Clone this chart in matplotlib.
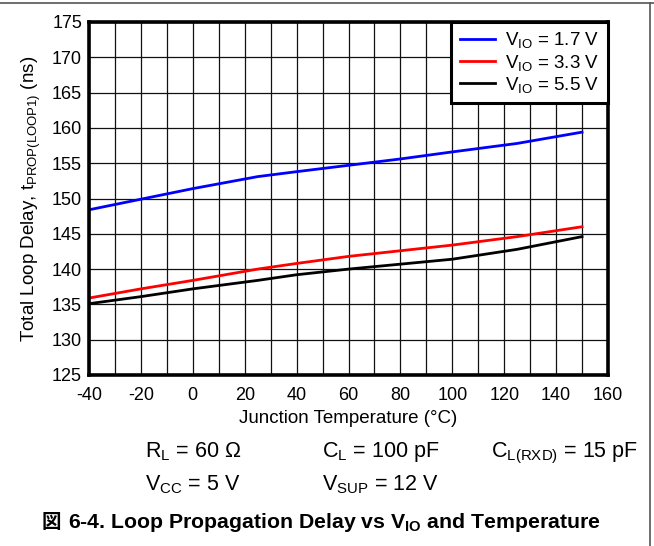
import matplotlib
matplotlib.use("Agg")
import matplotlib.pyplot as plt
from matplotlib.lines import Line2D

plt.rcParams['font.family'] = ['Liberation Sans', 'Noto Sans CJK JP', 'DejaVu Sans']
plt.rcParams['mathtext.fontset'] = 'custom'
plt.rcParams['mathtext.rm'] = 'Liberation Sans'
plt.rcParams['mathtext.it'] = 'Liberation Sans'
plt.rcParams['mathtext.bf'] = 'Liberation Sans:bold'
plt.rcParams['axes.unicode_minus'] = False

# ---- data ----
temps = [-40, -20, 0, 25, 40, 60, 80, 100, 125, 150]
delay_vio_17 = [148.4, 149.9, 151.4, 153.1, 153.8, 154.7, 155.6, 156.6, 157.8, 159.4]
delay_vio_33 = [135.9, 137.2, 138.4, 140.0, 140.8, 141.8, 142.6, 143.4, 144.6, 146.0]
delay_vio_55 = [135.1, 136.1, 137.2, 138.4, 139.2, 140.0, 140.7, 141.4, 142.8, 144.6]
series_labels = [r'$\mathregular{V_{IO}}$ = 1.7 V',
                 r'$\mathregular{V_{IO}}$ = 3.3 V',
                 r'$\mathregular{V_{IO}}$ = 5.5 V']
series_colors = ['#0000FF', '#FF0000', '#000000']
x_ticks = [-40, -20, 0, 20, 40, 60, 80, 100, 120, 140, 160]
y_ticks = [125, 130, 135, 140, 145, 150, 155, 160, 165, 170, 175]

W, H = 654, 546
fig = plt.figure(figsize=(W / 100, H / 100), dpi=100)
ax = fig.add_axes([89 / W, 1 - 375 / H, (608 - 89) / W, (375 - 22) / H])

for vals, lab, col in zip([delay_vio_17, delay_vio_33, delay_vio_55], series_labels, series_colors):
    ax.plot(temps, vals, color=col, lw=2.0, label=lab, zorder=3)

ax.set_xlim(-40, 160)
ax.set_ylim(125, 175)
ax.set_xticks(x_ticks)
ax.set_yticks(y_ticks)
ax.set_xticks(range(-40, 161, 10), minor=True)
ax.grid(True, which='both', color='#111111', lw=0.9, zorder=1)
ax.tick_params(which='both', length=0, labelsize=13, colors='black')
ax.tick_params(axis='x', pad=9)
ax.tick_params(axis='y', pad=5)
for s in ax.spines.values():
    s.set_linewidth(2.6)
    s.set_color('black')
    s.set_zorder(4)

ax.set_xlabel('Junction Temperature (°C)', fontsize=13.5, labelpad=4)
ax.set_ylabel(r'Total Loop Delay, $\mathregular{t_{PROP(LOOP1)}}$ (ns)', fontsize=13.5, labelpad=6)

leg = ax.legend(loc='upper right', fontsize=13.5, frameon=True, fancybox=False,
                borderaxespad=0, handlelength=1.9, labelspacing=0.12,
                borderpad=0.45, handletextpad=0.55)
leg.get_frame().set_edgecolor('black')
leg.get_frame().set_linewidth(2.2)
leg.get_frame().set_alpha(1)
leg.set_zorder(5)

fs = 15.5
fig.text(145 / W, 1 - 457 / H, r'$\mathregular{R_L}$ = 60 Ω', fontsize=fs, va='baseline')
fig.text(322 / W, 1 - 457 / H, r'$\mathregular{C_L}$ = 100 pF', fontsize=fs, va='baseline')
fig.text(491 / W, 1 - 457 / H, r'$\mathregular{C_{L(RXD)}}$ = 15 pF', fontsize=fs, va='baseline')
fig.text(145 / W, 1 - 490 / H, r'$\mathregular{V_{CC}}$ = 5 V', fontsize=fs, va='baseline')
fig.text(322 / W, 1 - 490 / H, r'$\mathregular{V_{SUP}}$ = 12 V', fontsize=fs, va='baseline')
fig.text(42 / W, 1 - 528 / H, '図', fontsize=14, fontweight='bold',
         family=['Noto Sans CJK JP', 'DejaVu Sans'], va='baseline')
fig.text(68 / W, 1 - 528 / H, r'6-4. Loop Propagation Delay vs $\mathbf{V_{IO}}$ and Temperature',
         fontsize=15.3, fontweight='bold', va='baseline')

# outer frame lines (top and right)
fig.add_artist(Line2D([0, 1], [1 - 3 / H, 1 - 3 / H], color='#555555', lw=1.2, transform=fig.transFigure))
fig.add_artist(Line2D([650 / W, 650 / W], [0, 1 - 3 / H], color='#555555', lw=1.2, transform=fig.transFigure))

fig.savefig('out.png', dpi=100)
